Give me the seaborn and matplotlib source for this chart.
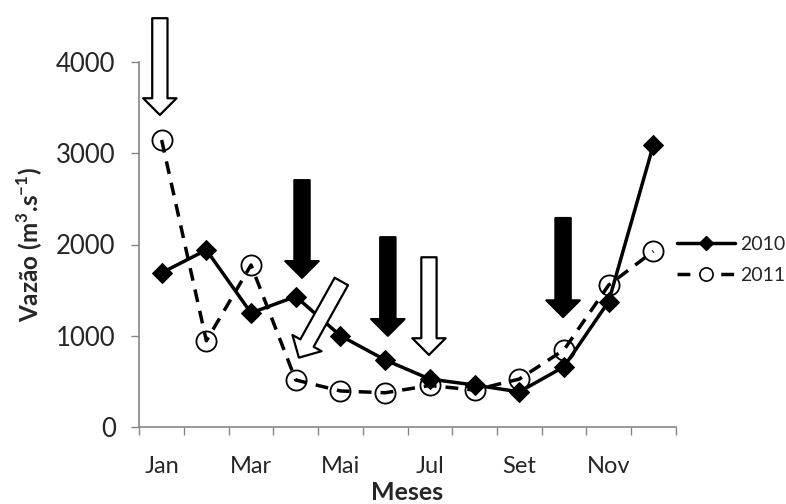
import matplotlib
matplotlib.use("Agg")
import matplotlib.pyplot as plt
from matplotlib.lines import Line2D
import seaborn as sns
import pandas as pd

months = ["Jan", "Fev", "Mar", "Abr", "Mai", "Jun", "Jul", "Ago", "Set", "Out", "Nov", "Dez"]
shown_labels = ["Jan", "", "Mar", "", "Mai", "", "Jul", "", "Set", "", "Nov", ""]
v2010 = [1690, 1940, 1250, 1430, 1000, 735, 525, 460, 385, 660, 1375, 3090]
v2011 = [3145, 945, 1775, 515, 395, 375, 455, 405, 525, 845, 1555, 1925]
yticks = [0, 1000, 2000, 3000, 4000]

# annotation arrows: (tail_x, tail_y, tip_x, tip_y, fill)  in data units (category index, m3/s)
arrows = [
    (-0.04, 4480, -0.04, 3420, "white"),
    (3.14, 2705, 3.14, 1635, "black"),
    (4.02, 1595, 3.07, 760, "white"),
    (5.06, 2080, 5.06, 1000, "black"),
    (5.98, 1860, 5.98, 790, "white"),
    (8.98, 2290, 8.98, 1205, "black"),
]

sns.set_style("white")
plt.rcParams["font.family"] = ["Lato", "DejaVu Sans"]
plt.rcParams["mathtext.fontset"] = "custom"
plt.rcParams["mathtext.rm"] = "Lato"
plt.rcParams["mathtext.bf"] = "Lato:bold"

fig = plt.figure(figsize=(7.86, 5.04), dpi=100)
ax = fig.add_axes([139.3 / 786, 1 - 427 / 504, (675.7 - 139.3) / 786, (427 - 62) / 504])

df10 = pd.DataFrame({"mes": months, "v": v2010})
df11 = pd.DataFrame({"mes": months, "v": v2011})

sns.scatterplot(data=df11, x="mes", y="v", marker="o", s=14.5 ** 2, color="white",
                edgecolor="black", linewidth=1.3, ax=ax, zorder=2, legend=False)
sns.lineplot(data=df11, x="mes", y="v", color="black", linewidth=2.5, ax=ax, zorder=3,
             legend=False, linestyle=(0, (3.7, 2.6)))
sns.lineplot(data=df10, x="mes", y="v", color="black", linewidth=2.5, ax=ax, zorder=4,
             legend=False, marker="D", markersize=10.5, markerfacecolor="black",
             markeredgecolor="black")

ax.set_xlim(-0.5, 11.5)
ax.set_ylim(0, 4000)
ax.set_yticks(yticks)
ax.set_yticklabels([str(t) for t in yticks])
ax.set_xticks([i - 0.5 for i in range(13)])
ax.set_xticklabels([])
ax.set_xticks(list(range(12)), minor=True)
ax.set_xticklabels(shown_labels, minor=True)
ax.tick_params(axis="x", which="major", length=6, width=1, color="#868686", direction="out", bottom=True)
ax.tick_params(axis="x", which="minor", length=0, labelsize=17, pad=21)
ax.tick_params(axis="y", length=6, width=1, color="#868686", direction="out", left=True,
               labelsize=18.5, pad=11)

for s in ["top", "right"]:
    ax.spines[s].set_visible(False)
for s in ["left", "bottom"]:
    ax.spines[s].set_color("#868686")
    ax.spines[s].set_linewidth(1.2)

ax.set_xlabel("Meses", fontsize=18, fontweight="bold", labelpad=3)
ax.set_ylabel(r"Vazão (m$^{\mathbf{3}}$.s$^{\mathbf{-1}}$)", fontsize=17.5, fontweight="bold", labelpad=8)

for tx, ty, hx, hy, fc in arrows:
    ax.annotate("", xy=(hx, hy), xytext=(tx, ty), annotation_clip=False,
                arrowprops=dict(arrowstyle="simple,head_width=24,head_length=12,tail_width=11",
                                mutation_scale=1, fc=fc, ec="black", lw=1.6,
                                shrinkA=0, shrinkB=0), zorder=6)

handles = [
    Line2D([], [], color="black", linewidth=2.5, marker="D", markersize=7.5),
    Line2D([], [], color="black", linewidth=2.5, linestyle=(0, (3.7, 2.6)), marker="o",
           markersize=9.5, markerfacecolor="white", markeredgecolor="black", markeredgewidth=1.2),
]
fig.legend(handles, ["2010", "2011"], loc="center left", bbox_to_anchor=(677 / 786, 1 - 260 / 504),
           frameon=False, fontsize=14, handlelength=3.0, handletextpad=0.25, labelspacing=0.7,
           borderpad=0, borderaxespad=0)

fig.savefig("out.png", dpi=100)
